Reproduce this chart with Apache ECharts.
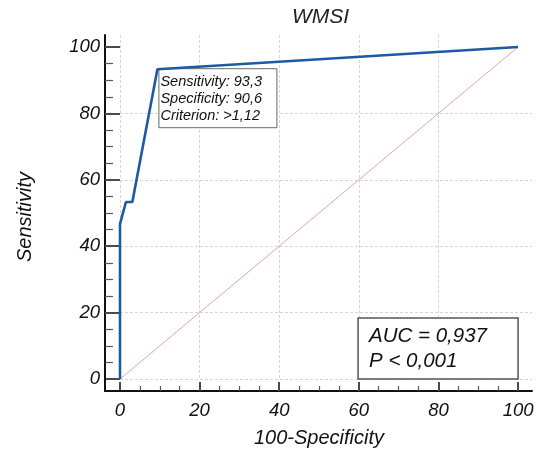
<!DOCTYPE html>
<html>
<head>
<meta charset="utf-8">
<script src="https://cdn.jsdelivr.net/npm/echarts@6/dist/echarts.min.js"></script>
<style>
  html, body { margin: 0; padding: 0; background: #fff; }
  #chart { width: 537px; height: 450px; }
</style>
</head>
<body>
<div id="chart"></div>
<script>
// ROC curve for WMSI: operating points as (specificity, sensitivity) in percent
const specificity = [100, 100, 98.5, 96.9, 90.6, 0];
const sensitivity = [0, 46.7, 53.3, 53.3, 93.3, 100];
const cutoffIndex = 4;
const criterion = '>1,12';
const aucText = 'AUC = 0,937';
const pText = 'P < 0,001';
const tickValues = [0, 20, 40, 60, 80, 100];
const chanceX = [0, 100];
const chanceY = [0, 100];

const FONT = '"Liberation Sans", Arial, sans-serif';
const comma = v => v.toFixed(1).replace('.', ',');

const rocPoints = specificity.map((s, i) => [100 - s, sensitivity[i]]);
const chancePoints = chanceX.map((x, i) => [x, chanceY[i]]);

const chart = echarts.init(document.getElementById('chart'), null, { renderer: 'canvas' });

const axisCommon = {
  type: 'value',
  min: 0,
  interval: 20,
  axisLine: { show: true, onZero: false, lineStyle: { color: '#111', width: 2 } },
  axisTick: { show: true, inside: true, customValues: tickValues, lineStyle: { color: '#4a4a4a', width: 2 } },
  minorTick: { show: true, splitNumber: 4, lineStyle: { color: '#555', width: 1.2 } },
  axisLabel: { customValues: tickValues, fontFamily: FONT, fontStyle: 'italic', fontSize: 18.5, color: '#111' },
  splitLine: { show: true, showMaxLine: false, lineStyle: { color: '#d6d6d6', width: 1, type: [3, 2] } },
  nameLocation: 'middle',
  nameTextStyle: { fontFamily: FONT, fontStyle: 'italic', fontSize: 20, color: '#111' }
};

chart.setOption({
  backgroundColor: '#fff',
  animation: false,
  title: {
    text: 'WMSI',
    left: 292,
    top: 7,
    padding: 0,
    textStyle: { fontFamily: FONT, fontStyle: 'italic', fontWeight: 'normal', fontSize: 21, color: '#222' }
  },
  grid: { left: 120, right: 5, top: 35, bottom: 71, containLabel: false, outerBoundsMode: 'none' },
  xAxis: Object.assign({}, axisCommon, {
    max: 103.5,
    offset: 12,
    name: '100-Specificity',
    nameGap: 37,
    axisTick: Object.assign({}, axisCommon.axisTick, { length: 9 }),
    minorTick: Object.assign({}, axisCommon.minorTick, { length: 5 }),
    axisLabel: Object.assign({}, axisCommon.axisLabel, { margin: 10 }),
    nameTextStyle: Object.assign({}, axisCommon.nameTextStyle, { padding: [0, 14, 0, 0] })
  }),
  yAxis: Object.assign({}, axisCommon, {
    max: 103.6,
    offset: 15,
    name: 'Sensitivity',
    nameGap: 70,
    axisTick: Object.assign({}, axisCommon.axisTick, { length: 15 }),
    minorTick: Object.assign({}, axisCommon.minorTick, { length: 8 }),
    axisLabel: Object.assign({}, axisCommon.axisLabel, { margin: 5 }),
    nameTextStyle: Object.assign({}, axisCommon.nameTextStyle, { padding: [0, 20, 0, 0] })
  }),
  series: [
    {
      name: 'chance',
      type: 'line',
      data: chancePoints,
      showSymbol: false,
      silent: true,
      lineStyle: { color: '#e3a3ab', width: 1 },
      z: 2
    },
    {
      name: 'ROC',
      type: 'line',
      data: rocPoints,
      showSymbol: false,
      lineStyle: { color: '#1d5aa5', width: 2.6 },
      z: 3
    }
  ]
});

// annotation boxes and the axis corner, positioned from data coordinates
const origin = chart.convertToPixel({ gridIndex: 0 }, [0, 0]);
const corner = chart.convertToPixel({ gridIndex: 0 }, [100, 0]);
const cut = chart.convertToPixel({ gridIndex: 0 }, rocPoints[cutoffIndex]);
const yLineX = origin[0] - 15;
const xLineY = origin[1] + 12;

chart.setOption({
  graphic: [
    {
      type: 'polyline',
      shape: { points: [[yLineX, origin[1] - 1], [yLineX, xLineY], [origin[0] + 1, xLineY]] },
      style: { stroke: '#111', lineWidth: 2, fill: null },
      z: 10
    },
    {
      type: 'group',
      x: cut[0] + 1,
      y: cut[1] - 1,
      z: 20,
      children: [
        {
          type: 'rect',
          shape: { x: 0.5, y: 0.5, width: 118, height: 59 },
          style: { fill: '#fff', stroke: '#6a6a6a', lineWidth: 1 }
        },
        {
          type: 'text',
          x: 2,
          y: 5,
          style: {
            text: 'Sensitivity: ' + comma(sensitivity[cutoffIndex]) + '\nSpecificity: ' + comma(specificity[cutoffIndex]) + '\nCriterion: ' + criterion,
            font: 'italic 14.5px ' + FONT,
            lineHeight: 17,
            fill: '#111'
          }
        }
      ]
    },
    {
      type: 'group',
      x: corner[0] - 160,
      y: corner[1] - 61,
      z: 20,
      children: [
        {
          type: 'rect',
          shape: { x: 0, y: 0, width: 160, height: 61 },
          style: { fill: '#fff', stroke: '#555', lineWidth: 1.5 }
        },
        {
          type: 'text',
          x: 11,
          y: 6,
          style: {
            text: aucText + '\n' + pText,
            font: 'italic 20.5px ' + FONT,
            lineHeight: 25,
            fill: '#111'
          }
        }
      ]
    }
  ]
});
</script>
</body>
</html>
